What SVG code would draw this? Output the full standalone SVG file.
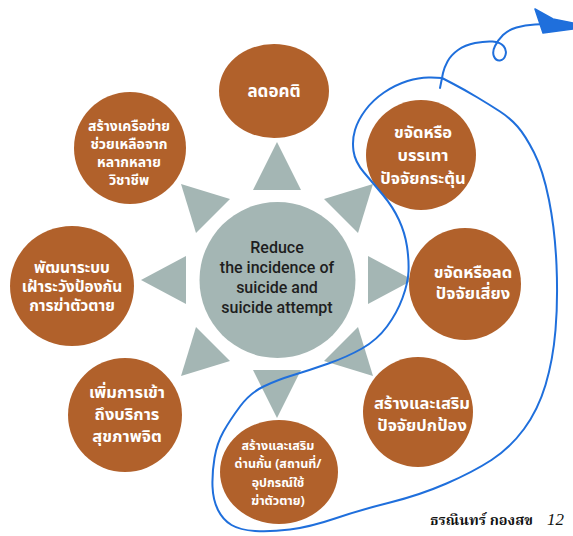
<svg xmlns="http://www.w3.org/2000/svg" width="573" height="536" viewBox="0 0 573 536">
<style>
.bg{fill:#ffffff}
.tri{fill:#a4b6b4}
.hub{fill:#a4b6b4}
.node{fill:#b1612b}
.th{font-family:"Noto Sans Thai","Noto Sans","DejaVu Sans",sans-serif;font-weight:bold;fill:#ffffff;text-anchor:middle}
.en{font-family:Roboto,"DejaVu Sans",sans-serif;font-size:16px;font-weight:500;fill:#1e1e1e;text-anchor:middle}
.ink{fill:none;stroke:#1f6fdc;stroke-width:2;stroke-linecap:round;stroke-linejoin:round}
.foot{font-family:"Liberation Serif","Noto Serif Thai",serif;font-weight:bold;font-size:14.5px;fill:#111}
</style>
<rect class="bg" x="0" y="0" width="573" height="536"/>
<g id="connectors">
<polygon class="tri" points="277,142 253,190 301,190"/>
<polygon class="tri" points="373,184 324,199 358,233"/>
<polygon class="tri" points="413,280 368,256 368,304"/>
<polygon class="tri" points="373,376 358,327 324,361"/>
<polygon class="tri" points="277,418 301,370 253,370"/>
<polygon class="tri" points="181,376 230,361 196,327"/>
<polygon class="tri" points="141,280 186,304 186,256"/>
<polygon class="tri" points="181,184 196,233 230,199"/>
</g>
<g id="hub">
<circle class="hub" cx="277.5" cy="280" r="78"/>
<text class="en" x="277" y="253">Reduce</text>
<text class="en" x="277" y="273">the incidence of</text>
<text class="en" x="277" y="293">suicide and</text>
<text class="en" x="277" y="313">suicide attempt</text>
</g>
<g id="n1">
<ellipse class="node" cx="274" cy="91" rx="55" ry="47"/>
<text class="th" x="274" y="97" font-size="17">ลดอคติ</text>
</g>
<g id="n2">
<circle class="node" cx="130" cy="148" r="56"/>
<text class="th" x="129" y="131" font-size="14">สร้างเครือข่าย</text>
<text class="th" x="129" y="149" font-size="14">ช่วยเหลือจาก</text>
<text class="th" x="129" y="167" font-size="14">หลากหลาย</text>
<text class="th" x="129" y="185" font-size="14">วิชาชีพ</text>
</g>
<g id="n3">
<circle class="node" cx="421" cy="155" r="55"/>
<text class="th" x="423" y="138" font-size="16.5">ขจัดหรือ</text>
<text class="th" x="423" y="161" font-size="16.5">บรรเทา</text>
<text class="th" x="423" y="184" font-size="16.5">ปัจจัยกระตุ้น</text>
</g>
<g id="n4">
<ellipse class="node" cx="72" cy="286" rx="62" ry="60"/>
<text class="th" x="72" y="273" font-size="15.5">พัฒนาระบบ</text>
<text class="th" x="72" y="292" font-size="15.5">เฝ้าระวังป้องกัน</text>
<text class="th" x="72" y="311" font-size="15.5">การฆ่าตัวตาย</text>
</g>
<g id="n5">
<circle class="node" cx="465" cy="284" r="56"/>
<text class="th" x="473" y="278" font-size="16.5">ขจัดหรือลด</text>
<text class="th" x="473" y="299" font-size="16.5">ปัจจัยเสี่ยง</text>
</g>
<g id="n6">
<circle class="node" cx="125" cy="415" r="57"/>
<text class="th" x="127" y="398" font-size="16.5">เพิ่มการเข้า</text>
<text class="th" x="127" y="420" font-size="16.5">ถึงบริการ</text>
<text class="th" x="127" y="442" font-size="16.5">สุขภาพจิต</text>
</g>
<g id="n7">
<circle class="node" cx="418" cy="412" r="55"/>
<text class="th" x="422" y="409" font-size="16.5">สร้างและเสริม</text>
<text class="th" x="422" y="431" font-size="16.5">ปัจจัยปกป้อง</text>
</g>
<g id="n8">
<ellipse class="node" cx="279" cy="472" rx="59" ry="52"/>
<text class="th" x="278" y="450" font-size="12.5">สร้างและเสริม</text>
<text class="th" x="278" y="468" font-size="12.5">ด่านกั้น (สถานที่/</text>
<text class="th" x="278" y="487" font-size="12.5">อุปกรณ์ใช้</text>
<text class="th" x="278" y="505" font-size="12.5">ฆ่าตัวตาย)</text>
</g>
<g id="annotation">
<path class="ink" d="M442,78 L431,77.5 Q420,77 407.5,81 Q395,85 384,92.5 Q373,100 365.5,110 Q358,120 355,130 Q352,140 353.5,151 Q355,162 364,172.5 Q373,183 383,195 Q393,207 399,220 Q405,233 407,246.5 Q409,260 408.5,271.5 Q408,283 402.5,298 Q397,313 387,326.5 Q377,340 362,348.5 Q347,357 328.5,363.5 Q310,370 293.5,375 Q277,380 263.5,386.5 Q250,393 240,406.5 Q230,420 223.5,431.5 Q217,443 214.5,458 Q212,473 212.5,486.5 Q213,500 218,510 Q223,520 231.5,525 Q240,530 255,531 Q270,532 290,529.5 Q310,527 335,518.5 Q360,510 390,502.5 Q420,495 446.5,483.5 Q473,472 491.5,460 Q510,448 524,429 Q538,410 545.5,385 Q553,360 555.5,330 Q558,300 556.5,265 Q555,230 549,200 Q543,170 534,152.5 Q525,135 517.5,126.5 Q510,118 500,111.5 Q490,105 477.5,97.5 Q465,90 453.5,84 L442,78 L440,88"/>
<path class="ink" d="M545,24 L535,24.5 Q525,25 516.5,27.5 Q508,30 503,35 Q498,40 495,46 Q492,52 494,56.5 Q496,61 500,60.5 Q504,60 505.5,55 Q507,50 503.5,46 Q500,42 492.5,41.5 Q485,41 475,43 Q465,45 458,50 Q451,55 447.5,61.5 Q444,68 443,73 L442,78"/>
<polygon points="535,9 553,19 573,23 573,29 543,33 539,21" fill="#1f6fdc" stroke="#1f6fdc" stroke-width="1.5" stroke-linejoin="round"/>
</g>
<text class="foot" x="430" y="525">ธรณินทร์ กองสข<tspan x="547" font-style="italic" font-weight="normal" font-size="17">12</tspan></text>
</svg>
